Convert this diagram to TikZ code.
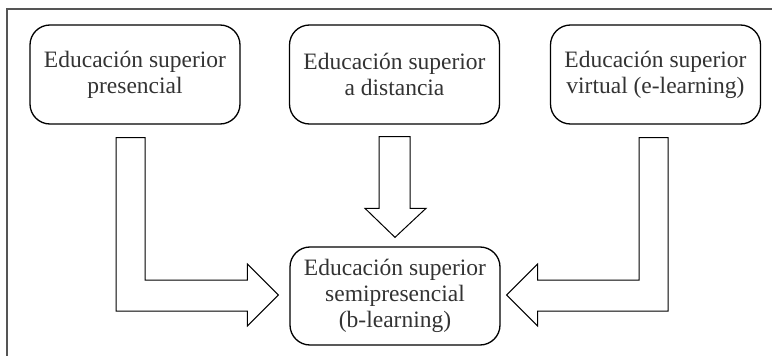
\documentclass[tikz,border=0pt]{standalone}
\usepackage{fontspec}
\setmainfont{Liberation Serif}
\usetikzlibrary{calc}
\definecolor{framegray}{HTML}{555555}
\definecolor{textgray}{HTML}{333333}
\begin{document}
\begin{tikzpicture}[x=1pt,y=-1pt,
  box/.style={draw=black,line width=1.3pt,rounded corners=20pt,minimum width=210pt,minimum height=99pt,
    align=center,inner sep=0pt,text=textgray,font=\fontsize{23.5}{26}\selectfont},
  blockarrow/.style={draw=black,line width=1pt,fill=white,line join=miter}]
\useasboundingbox (0,0) rectangle (772,356);
\draw[framegray,line width=2pt] (7,356) -- (7,9) -- (772,9);
\node[box] (A) at (135,74.5) {Educación superior\\presencial};
\node[box] (B) at (394.5,74.5) {Educación superior\\a distancia};
\node[box] (C) at (655.5,74.5) {Educación superior\\virtual (e-learning)};
\node[box,minimum height=98pt] (D) at (395,296) {Educación superior\\semipresencial\\(b-learning)};
% left block arrow A -> D
\draw[blockarrow] ($(A.south)+(-19,13)$) -- ($(A.south)+(10,13)$) |- ($(D.west)+(-42,-16)$)
  -- ($(D.west)+(-42,-32)$) -- ($(D.west)+(-11,-1)$) -- ($(D.west)+(-42,30)$)
  -- ($(D.west)+(-42,15)$) -| cycle;
% middle block arrow B -> D
\draw[blockarrow] ($(B.south)+(-15.5,12)$) -- ($(B.south)+(15.5,12)$) -- ($(D.north)+(15,-38)$)
  -- ($(D.north)+(31,-38)$) -- ($(D.north)+(0,-9)$) -- ($(D.north)+(-30,-38)$)
  -- ($(D.north)+(-16,-38)$) -- cycle;
% right block arrow C -> D
\draw[blockarrow] ($(C.south)+(-16.5,13)$) -- ($(C.south)+(12.5,13)$) |- ($(D.east)+(37,15)$)
  -- ($(D.east)+(37,30)$) -- ($(D.east)+(6,-1)$) -- ($(D.east)+(37,-32)$)
  -- ($(D.east)+(37,-16)$) -| cycle;
\end{tikzpicture}
\end{document}
